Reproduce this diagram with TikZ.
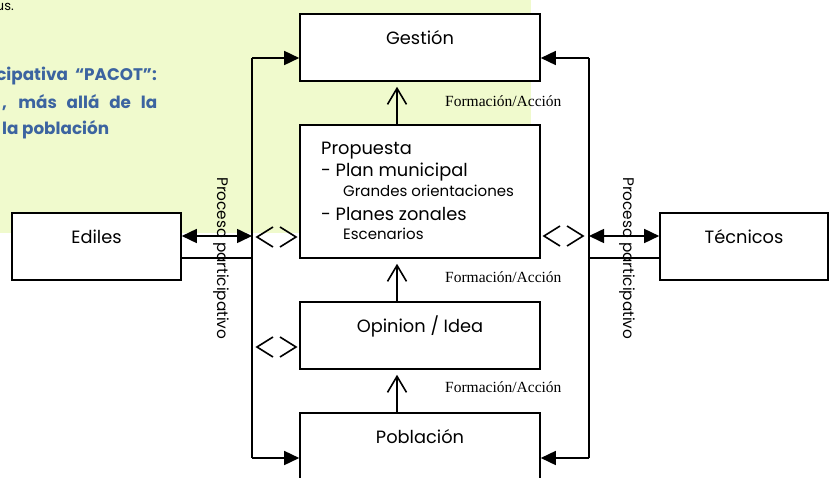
\documentclass[tikz,border=0pt]{standalone}
\usepackage{fontspec}
\setmainfont{Poppins}
\newfontfamily\serifl{Liberation Serif}
\usetikzlibrary{arrows.meta}
\definecolor{bgGreen}{RGB}{240,250,205}
\definecolor{txtBlue}{RGB}{60,100,160}
\begin{document}
\begin{tikzpicture}[x=1pt,y=-1pt,
  box/.style={draw, fill=white, line width=1.6pt, inner sep=0pt, rectangle},
  conn/.style={line width=1.6pt},
  tri/.style={conn, -{Triangle[length=15pt,width=14pt]}},
  tritwo/.style={conn, {Triangle[length=15pt,width=14pt]}-{Triangle[length=15pt,width=14pt]}},
  openup/.style={conn, -{Straight Barb[length=16pt,width=19pt]}, shorten >=5pt},
  lbl/.style={inner sep=0pt, font=\fontsize{17.8}{20}\selectfont},
  small/.style={inner sep=0pt, font=\fontsize{15}{17}\selectfont},
  fa/.style={inner sep=0pt, font=\serifl\fontsize{15.5}{17}\selectfont},
  vert/.style={inner sep=0pt, rotate=-90, anchor=west, font=\fontsize{15.3}{17}\selectfont},
  blue/.style={inner sep=0pt, text=txtBlue, font=\bfseries\fontsize{16.8}{19}\selectfont},
  chev/.pic={\draw[line width=1.6pt] (16,-10)--(0,0)--(16,10);
             \draw[line width=1.6pt] (23,-10)--(39,0)--(23,10);}
]
\useasboundingbox (0,0) rectangle (834,478);
\clip (0,0) rectangle (834,478);
\fill[white] (0,0) rectangle (834,478);
\fill[bgGreen] (0,0) rectangle (531,233);

% top-left text
\node[inner sep=0pt, anchor=base east, font=\fontsize{13}{15}\selectfont] (tus) at (14,11) {us.};
\node[blue, anchor=base east] (b1) at (157,81) {cipativa\ \ “PACOT”:};
\node[blue, anchor=base west] (b2) at (2,109) {\makebox[155pt][s]{, más allá de la}};
\node[blue, anchor=base west] (b3) at (2,135) {la población};

% boxes
\node[box, minimum width=240pt, minimum height=67pt] (gestion) at (420,47.5) {};
\node[box, minimum width=240pt, minimum height=133pt] (propuesta) at (420,191.5) {};
\node[box, minimum width=240pt, minimum height=67pt] (opinion) at (420,335.5) {};
\node[box, minimum width=240pt, minimum height=100pt] (poblacion) at (420,463) {};
\node[box, minimum width=169pt, minimum height=67pt] (ediles) at (96.5,246.5) {};
\node[box, minimum width=168pt, minimum height=67pt] (tecnicos) at (744,246.5) {};

% box texts
\node[lbl, anchor=base] (tg) at (420,45) {Gestión};
\node[lbl, anchor=base west] (tp1) at (321,155) {Propuesta};
\node[lbl, anchor=base west] (tp2) at (321,177) {- Plan municipal};
\node[small, anchor=base west] (tp3) at (343,197) {Grandes orientaciones};
\node[lbl, anchor=base west] (tp4) at (321,220) {- Planes zonales};
\node[small, anchor=base west] (tp5) at (343,239) {Escenarios};
\node[lbl, anchor=base] (to) at (420,332) {Opinion / Idea};
\node[lbl, anchor=base] (tpo) at (420,443) {Población};
\node[lbl, anchor=base] (te) at (96.5,243) {Ediles};
\node[lbl, anchor=base] (tt) at (744,243) {Técnicos};

% connector coordinates
\coordinate (lt) at (252,58);
\coordinate (lb) at (252,458);
\coordinate (rt) at (589,58);
\coordinate (rb) at (589,458);
\coordinate (le) at (252,236);
\coordinate (ll) at (252,258);
\coordinate (re) at (589,236);
\coordinate (rl) at (589,258);
\coordinate (ax) at (397,0);

% left loop
\draw[conn] (lt) -- (lb);
\draw[tri] (lt) -- (lt -| gestion.west);
\draw[tri] (lb) -- (lb -| poblacion.west);
\draw[tritwo] (le -| ediles.east) -- (le);
\draw[conn] (ll -| ediles.east) -- (ll);

% right loop
\draw[conn] (rt) -- (rb);
\draw[tri] (rt) -- (rt -| gestion.east);
\draw[tri] (rb) -- (rb -| poblacion.east);
\draw[tritwo] (re) -- (re -| tecnicos.west);
\draw[conn] (rl) -- (rl -| tecnicos.west);

% upward open arrows
\draw[openup] (propuesta.north -| ax) -- (gestion.south -| ax);
\draw[openup] (opinion.north -| ax) -- (propuesta.south -| ax);
\draw[openup] (poblacion.north -| ax) -- (opinion.south -| ax);

% labels
\node[fa, anchor=base west] (fa1) at (445,107) {Formación/Acción};
\node[fa, anchor=base west] (fa2) at (445,282) {Formación/Acción};
\node[fa, anchor=base west] (fa3) at (445,392) {Formación/Acción};

% open double chevrons
\pic at (257,237) {chev};
\pic at (257,347) {chev};
\pic at (544,236) {chev};

% vertical texts
\node[vert] (pl) at (221,177) {Proceso participativo};
\node[vert] (pr) at (627,177) {Proceso participativo};
\end{tikzpicture}
\end{document}
